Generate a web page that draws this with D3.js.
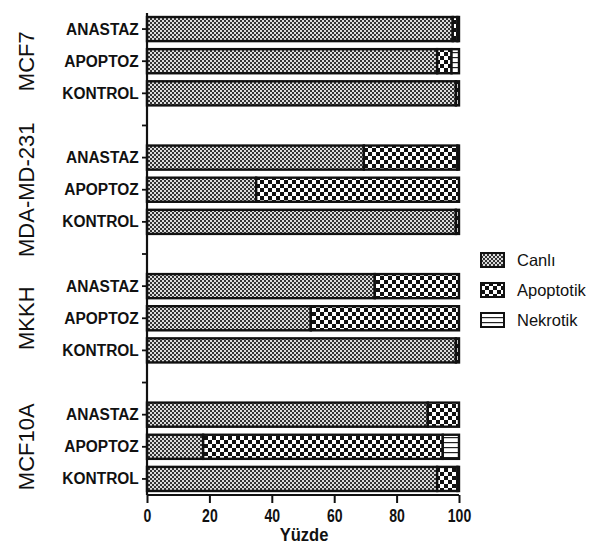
<!DOCTYPE html>
<html><head><meta charset="utf-8">
<script src="https://cdn.jsdelivr.net/npm/d3@7"></script>
<style>body{margin:0;background:#fff}svg{display:block}</style>
</head><body>
<svg id="c" width="597" height="554"></svg>
<script>
const groups = ["MCF7", "MDA-MD-231", "MKKH", "MCF10A"];
const treatments = ["ANASTAZ", "APOPTOZ", "KONTROL"];
const seriesNames = ["Canlı", "Apoptotik", "Nekrotik"];
// values per group, in treatment order
const canli =     [[98, 93, 99], [69.5, 35, 99], [73, 52.5, 99], [90, 18, 93]];
const apoptotik = [[1.5, 4.6, 1], [30, 65, 1], [27, 47.5, 1], [10, 76.8, 6.5]];
const nekrotik =  [[0.5, 2.4, 0], [0.5, 0, 0], [0, 0, 0], [0, 5.2, 0.5]];
const xTicks = [0, 20, 40, 60, 80, 100];
const xTitle = "Yüzde";

const svg = d3.select("#c");
const defs = svg.append("defs");
const p1 = defs.append("pattern").attr("id","pCanli").attr("patternUnits","userSpaceOnUse").attr("width",4).attr("height",4);
p1.append("rect").attr("width",4).attr("height",4).attr("fill","#dcdcdc");
p1.append("rect").attr("width",2).attr("height",2).attr("fill","#333");
p1.append("rect").attr("x",2).attr("y",2).attr("width",2).attr("height",2).attr("fill","#333");
const p2 = defs.append("pattern").attr("id","pApop").attr("patternUnits","userSpaceOnUse").attr("width",8).attr("height",8);
p2.append("rect").attr("width",8).attr("height",8).attr("fill","#fff");
p2.append("rect").attr("width",4).attr("height",4).attr("fill","#111");
p2.append("rect").attr("x",4).attr("y",4).attr("width",4).attr("height",4).attr("fill","#111");
const p3 = defs.append("pattern").attr("id","pNek").attr("patternUnits","userSpaceOnUse").attr("width",5).attr("height",5);
p3.append("rect").attr("width",5).attr("height",5).attr("fill","#fff");
p3.append("rect").attr("y",2).attr("width",5).attr("height",1.2).attr("fill","#222");
const fills = ["url(#pCanli)","url(#pApop)","url(#pNek)"];

const slots = [];
groups.forEach((g, gi) => {
  treatments.forEach(t => slots.push(g + "|" + t));
  if (gi < groups.length - 1) slots.push("gap" + gi);
});
const y = d3.scaleBand().domain(slots).range([13, 495]).paddingInner(0.25).paddingOuter(0.125);
const x = d3.scaleLinear().domain([0, 100]).range([147, 459]);

const rows = [];
groups.forEach((g, gi) => treatments.forEach((t, ti) => {
  const vals = [canli[gi][ti], apoptotik[gi][ti], nekrotik[gi][ti]];
  let acc = 0;
  vals.forEach((v, si) => {
    rows.push({key: g + "|" + t, s: si, x0: acc, x1: acc + v});
    acc += v;
  });
}));
svg.append("g").selectAll("rect").data(rows.filter(d => d.x1 > d.x0)).join("rect")
  .attr("x", d => x(d.x0)).attr("width", d => x(d.x1) - x(d.x0))
  .attr("y", d => y(d.key)).attr("height", y.bandwidth())
  .attr("fill", d => fills[d.s]).attr("stroke", "#111").attr("stroke-width", 2.4);

const yAxis = d3.axisLeft(y).tickSize(5).tickPadding(4)
  .tickFormat(d => d.startsWith("gap") ? "" : d.split("|")[1]);
const ga = svg.append("g").attr("transform", "translate(147,0)").call(yAxis);
ga.select(".domain").attr("d", "M0,13V495").attr("stroke", "#111").attr("stroke-width", 2.2);
ga.selectAll(".tick line").attr("stroke", "#111").attr("stroke-width", 1.8);
ga.selectAll(".tick text").attr("font-family", "Liberation Sans, Arial, sans-serif")
  .attr("font-weight", "bold").attr("font-size", "17px").attr("fill", "#111")
  .attr("transform", "scale(0.91,1)");

groups.forEach(g => {
  const cy = y(g + "|APOPTOZ") + y.bandwidth() / 2;
  svg.append("text").attr("transform", `translate(34,${cy}) rotate(-90)`)
    .attr("text-anchor", "middle").attr("font-family", "Liberation Sans, Arial, sans-serif")
    .attr("font-size", "22px").attr("fill", "#111").text(g);
});

const xAxis = d3.axisBottom(x).tickValues(xTicks).tickSize(8).tickPadding(6).tickFormat(d3.format("d"));
const gx = svg.append("g").attr("transform", "translate(0,495)").call(xAxis);
gx.select(".domain").attr("d", "M147,0H459").attr("stroke", "#111").attr("stroke-width", 2.2);
gx.selectAll(".tick line").attr("stroke", "#111").attr("stroke-width", 2);
gx.selectAll(".tick text").attr("font-family", "Liberation Sans, Arial, sans-serif")
  .attr("font-weight", "bold").attr("font-size", "19px").attr("fill", "#111")
  .attr("transform", "scale(0.74,1)");
svg.append("text").attr("x", 304).attr("y", 541).attr("text-anchor", "middle")
  .attr("font-family", "Liberation Sans, Arial, sans-serif").attr("font-weight", "bold")
  .attr("font-size", "18px").attr("fill", "#111").attr("transform", "translate(304,0) scale(0.92,1) translate(-304,0)")
  .text(xTitle);

const lg = svg.append("g").selectAll("g").data(seriesNames).join("g")
  .attr("transform", (d, i) => `translate(481,${260 + i * 30})`);
lg.append("rect").attr("x", 0).attr("y", -7).attr("width", 23).attr("height", 14)
  .attr("fill", (d, i) => fills[i]).attr("stroke", "#111").attr("stroke-width", 2);
lg.append("text").attr("x", 36).attr("y", 6).attr("font-family", "Liberation Sans, Arial, sans-serif")
  .attr("font-size", "16.5px").attr("fill", "#111").text(d => d);
</script>
</body></html>
